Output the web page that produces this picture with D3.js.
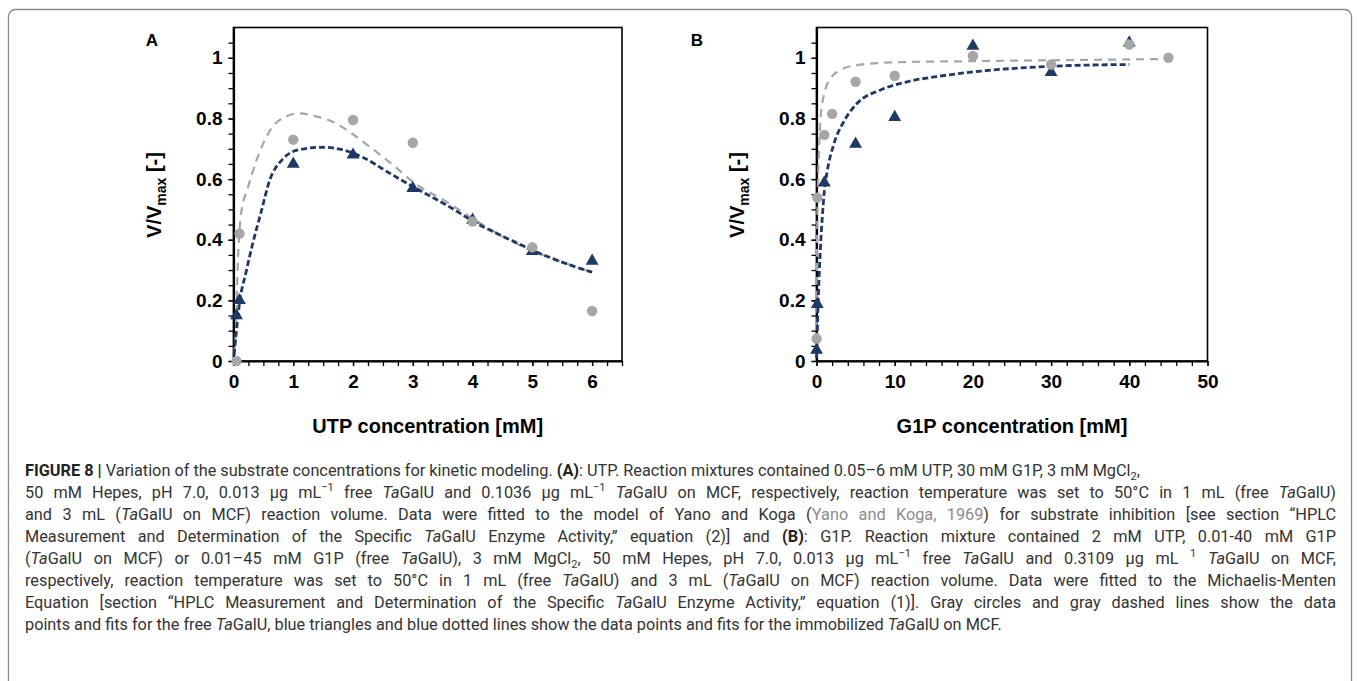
<!DOCTYPE html>
<html>
<head>
<meta charset="utf-8">
<script src="https://cdn.jsdelivr.net/npm/d3@7"></script>
<style>
  body{margin:0;background:#fff;}
  #wrap{position:relative;width:1357px;height:681px;overflow:hidden;}
  svg{position:absolute;left:0;top:0;}
  .cap{position:absolute;left:25px;height:22px;line-height:22px;white-space:nowrap;font-size:17px;
       font-family:Roboto,"Liberation Sans",Arial,sans-serif;color:#333;transform-origin:0 50%;}
  .cap b{font-weight:700;color:#222;}
  .just{text-align:justify;text-align-last:justify;}
  .cap sup,.cap sub{font-size:0.68em;line-height:0;}
  .cap .lnk{color:#8c8c8c;}
</style>
</head>
<body>
<div id="wrap"></div>
<script>
//data
const utpX = [0.05, 0.1, 1, 2, 3, 4, 5, 6]
const utpFree = [0.0, 0.42, 0.73, 0.795, 0.72, 0.46, 0.375, 0.165]
const utpImmob = [0.15, 0.2, 0.65, 0.68, 0.57, 0.465, 0.362, 0.33]

const fitUtpFreeX = [0.01, 0.04, 0.07, 0.13, 0.24, 0.38, 0.6, 0.88, 1.1, 1.38, 1.65, 1.93, 2.27, 2.66, 3.04, 3.54, 3.98, 4.43, 4.93, 5.43, 6.0]
const fitUtpFreeY = [0.02, 0.1, 0.31, 0.49, 0.571, 0.659, 0.757, 0.807, 0.817, 0.807, 0.79, 0.757, 0.708, 0.648, 0.585, 0.528, 0.473, 0.419, 0.369, 0.331, 0.293]
const fitUtpImmobX = [0.01, 0.05, 0.1, 0.21, 0.32, 0.46, 0.6, 0.82, 1.1, 1.49, 1.82, 2.16, 2.6, 3.04, 3.54, 4.1, 4.66, 5.21, 5.82, 6.0]
const fitUtpImmobY = [0.02, 0.1, 0.19, 0.293, 0.386, 0.49, 0.593, 0.665, 0.697, 0.705, 0.697, 0.672, 0.621, 0.571, 0.517, 0.451, 0.397, 0.348, 0.304, 0.293]

const g1pFreeX = [0.01, 0.1, 1, 2, 5, 10, 20, 30, 40, 45]
const g1pFree = [0.074, 0.539, 0.746, 0.815, 0.921, 0.941, 1.006, 0.978, 1.044, 1.0]
const g1pImmobX = [0.01, 0.1, 1, 5, 10, 20, 30, 40]
const g1pImmob = [0.036, 0.187, 0.588, 0.716, 0.804, 1.039, 0.952, 1.05]

const fitG1pFreeX = [0.01, 0.02, 0.05, 0.1, 0.2, 0.3, 0.5, 0.94, 1.8, 3.1, 5.2, 9.9, 20, 30, 45]
const fitG1pFreeY = [0.02, 0.12, 0.3, 0.45, 0.6, 0.68, 0.79, 0.877, 0.932, 0.96, 0.976, 0.985, 0.989, 0.992, 0.996]
const fitG1pImmobX = [0.01, 0.1, 0.25, 0.5, 0.73, 1.0, 1.37, 2.2, 3.5, 5.2, 8.2, 11.6, 15.9, 21, 30, 40]
const fitG1pImmobY = [0.01, 0.1, 0.22, 0.37, 0.47, 0.56, 0.626, 0.714, 0.79, 0.85, 0.894, 0.921, 0.94, 0.956, 0.972, 0.978]

const yMajor = [0, 0.2, 0.4, 0.6, 0.8, 1]
const utpMajor = [0, 1, 2, 3, 4, 5, 6]
const g1pMajor = [0, 10, 20, 30, 40, 50]

const GRAY = "#a6a6a6", BLUE = "#1f3864"
const W = 1357, H = 681

let svg = d3.select("#wrap").append("svg").attr("width", W).attr("height", H)
  .style("font-family", "'Liberation Sans', Arial, sans-serif")

//outer frame of the figure
svg.append("rect").attr("x", 8.5).attr("y", 9.5).attr("width", 1343).attr("height", 700)
  .attr("rx", 7).attr("fill", "none").attr("stroke", "#8a8a8a").attr("stroke-width", 1.3)

function panel(opt){
  let x = d3.scaleLinear().domain([0, opt.xMax]).range([opt.left, opt.right])
  let y = d3.scaleLinear().domain([0, 1.1]).range([361, 27.5])
  let g = svg.append("g")

  //box
  g.append("rect").attr("x", opt.left).attr("y", y(1.1)).attr("width", opt.right - opt.left)
    .attr("height", y(0) - y(1.1)).attr("fill", "none").attr("stroke", "#000").attr("stroke-width", 1.6)

  //minor ticks
  let yMinor = d3.range(0, 1.051, 0.05)
  let xMinor = d3.range(0, opt.xMax + 1e-6, opt.xMinor)
  g.append("g").attr("transform", `translate(${opt.left},0)`)
    .call(d3.axisLeft(y).tickValues(yMinor).tickSize(5).tickFormat(""))
    .call(a => a.select(".domain").remove())
  g.append("g").attr("transform", `translate(0,${y(0)})`)
    .call(d3.axisBottom(x).tickValues(xMinor).tickSize(5).tickFormat(""))
    .call(a => a.select(".domain").remove())

  //major axes
  let ya = g.append("g").attr("transform", `translate(${opt.left},0)`)
    .call(d3.axisLeft(y).tickValues(yMajor).tickSize(5).tickSizeOuter(0).tickPadding(6).tickFormat(d => String(d)))
  let xa = g.append("g").attr("transform", `translate(0,${y(0)})`)
    .call(d3.axisBottom(x).tickValues(opt.xTicks).tickSize(5).tickSizeOuter(0).tickPadding(9).tickFormat(d => String(d)))
  ;[ya, xa].forEach(a => {
    a.select(".domain").attr("stroke-width", 2.2)
    a.selectAll("text").attr("font-size", 19).attr("font-weight", "bold").attr("fill", "#000")
      .style("font-family", "'Liberation Sans', Arial, sans-serif")
  })
  g.selectAll(".tick line").attr("stroke-width", 1.3)

  //fits
  let line = d3.line().x(d => x(d[0])).y(d => y(d[1])).curve(d3.curveMonotoneX)
  g.append("path").datum(d3.zip(opt.fitFreeX, opt.fitFreeY)).attr("d", line)
    .attr("fill", "none").attr("stroke", GRAY).attr("stroke-width", 2.2).attr("stroke-dasharray", "8,6")
  g.append("path").datum(d3.zip(opt.fitImmobX, opt.fitImmobY)).attr("d", line)
    .attr("fill", "none").attr("stroke", BLUE).attr("stroke-width", 2.8).attr("stroke-dasharray", "6,3")

  //points
  let tri = d3.symbol().type(d3.symbolTriangle).size(72)
  g.selectAll(".tri").data(d3.zip(opt.immobX, opt.immob)).join("path")
    .attr("transform", d => `translate(${x(d[0])},${y(d[1])})`).attr("d", tri).attr("fill", BLUE)
  g.selectAll(".dot").data(d3.zip(opt.freeX, opt.free)).join("circle")
    .attr("cx", d => x(d[0])).attr("cy", d => y(d[1])).attr("r", 5.2).attr("fill", GRAY)

  //titles
  let yt = g.append("text").attr("transform", `translate(${opt.left - 73},${195}) rotate(-90)`)
    .attr("text-anchor", "middle").attr("font-size", 20).attr("font-weight", "bold")
  yt.append("tspan").text("V/V")
  yt.append("tspan").attr("dy", 5).attr("font-size", 14).text("max")
  yt.append("tspan").attr("dy", -5).text(" [-]")
  g.append("text").attr("x", (opt.left + opt.right) / 2).attr("y", 433).attr("text-anchor", "middle")
    .attr("font-size", 20).attr("font-weight", "bold").text(opt.xTitle)
  g.append("text").attr("x", opt.labelX).attr("y", 46).attr("font-size", 17).attr("font-weight", "bold")
    .attr("text-anchor", "middle").text(opt.label)
}

panel({left: 233.5, right: 622, xMax: 6.5, xMinor: 0.25, xTicks: utpMajor, label: "A", labelX: 152,
  xTitle: "UTP concentration [mM]", freeX: utpX, free: utpFree, immobX: utpX, immob: utpImmob,
  fitFreeX: fitUtpFreeX, fitFreeY: fitUtpFreeY, fitImmobX: fitUtpImmobX, fitImmobY: fitUtpImmobY})
panel({left: 816.5, right: 1207.5, xMax: 50, xMinor: 2, xTicks: g1pMajor, label: "B", labelX: 697,
  xTitle: "G1P concentration [mM]", freeX: g1pFreeX, free: g1pFree, immobX: g1pImmobX, immob: g1pImmob,
  fitFreeX: fitG1pFreeX, fitFreeY: fitG1pFreeY, fitImmobX: fitG1pImmobX, fitImmobY: fitG1pImmobY})

//caption
const capLines = [
  "<b>FIGURE 8 |</b> Variation of the substrate concentrations for kinetic modeling. <b>(A)</b>: UTP. Reaction mixtures contained 0.05–6 mM UTP, 30 mM G1P, 3 mM MgCl<sub>2</sub>,",
  "50 mM Hepes, pH 7.0, 0.013 μg mL<sup>−1</sup> free <i>Ta</i>GalU and 0.1036 μg mL<sup>−1</sup> <i>Ta</i>GalU on MCF, respectively, reaction temperature was set to 50°C in 1 mL (free <i>Ta</i>GalU)",
  "and 3 mL (<i>Ta</i>GalU on MCF) reaction volume. Data were fitted to the model of Yano and Koga (<span class='lnk'>Yano and Koga, 1969</span>) for substrate inhibition [see section “HPLC",
  "Measurement and Determination of the Specific <i>Ta</i>GalU Enzyme Activity,” equation (2)] and <b>(B)</b>: G1P. Reaction mixture contained 2 mM UTP, 0.01-40 mM G1P",
  "(<i>Ta</i>GalU on MCF) or 0.01–45 mM G1P (free <i>Ta</i>GalU), 3 mM MgCl<sub>2</sub>, 50 mM Hepes, pH 7.0, 0.013 μg mL<sup>−1</sup> free <i>Ta</i>GalU and 0.3109 μg mL <sup>1</sup> <i>Ta</i>GalU on MCF,",
  "respectively, reaction temperature was set to 50°C in 1 mL (free <i>Ta</i>GalU) and 3 mL (<i>Ta</i>GalU on MCF) reaction volume. Data were fitted to the Michaelis-Menten",
  "Equation [section “HPLC Measurement and Determination of the Specific <i>Ta</i>GalU Enzyme Activity,” equation (1)]. Gray circles and gray dashed lines show the data",
  "points and fits for the free <i>Ta</i>GalU, blue triangles and blue dotted lines show the data points and fits for the immobilized <i>Ta</i>GalU on MCF."
]
let caps = d3.select("#wrap").selectAll(".cap").data(capLines).join("div")
  .attr("class", (d, i) => (i > 0 && i < capLines.length - 1) ? "cap just" : "cap")
  .style("top", (d, i) => (459 + i * 22) + "px")
  .html(d => `<span>${d}</span>`)

//condense the caption so the first line spans like the original
let w0 = caps.filter((d, i) => i == 0).select("span").node().getBoundingClientRect().width
let k = 1115 / w0
caps.style("transform", `scaleX(${k})`)
//justified lines: use a block span so justify applies
caps.filter((d, i) => i > 0 && i < capLines.length - 1).select("span")
  .style("display", "block").style("width", (1311 / k) + "px")
</script>
</body>
</html>
